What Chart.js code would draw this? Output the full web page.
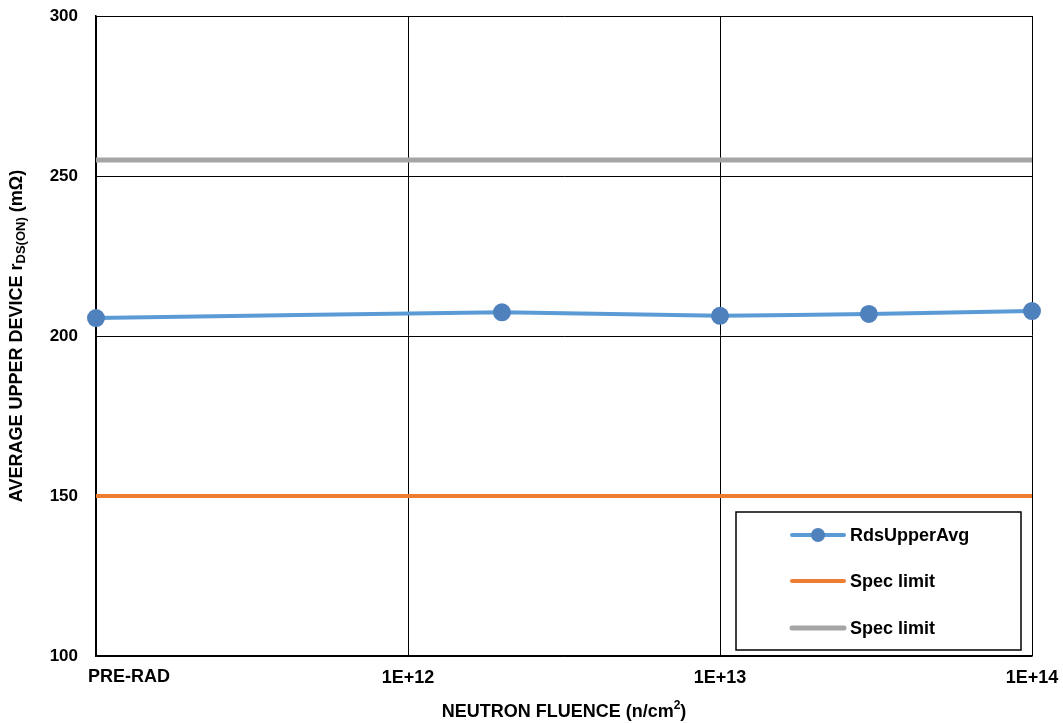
<!DOCTYPE html>
<html>
<head>
<meta charset="utf-8">
<script src="https://cdn.jsdelivr.net/npm/chart.js@4/dist/chart.umd.min.js"></script>
<style>
  html, body { margin: 0; padding: 0; background: #fff; }
  #wrap { width: 1063px; height: 723px; position: relative; }
</style>
</head>
<body>
<div id="wrap"><canvas id="chart"></canvas></div>
<script>
// dados
const fluence = [1e11, 2e12, 1e13, 3e13, 1e14];
const rdsUpperAvg = [205.6, 207.4, 206.3, 206.9, 207.8];
const specX = [1e11, 1e14];
const specLow = [150, 150];
const specHigh = [255, 255];
const xTickValues = [1e11, 1e12, 1e13, 1e14];
const xTickLabels = ['PRE-RAD', '1E+12', '1E+13', '1E+14'];
const yTickValues = [100, 150, 200, 250, 300];

const FONT = 'Liberation Sans, Arial, sans-serif';

function toPoints(xs, ys) {
    return xs.map((x, i) => ({ x: x, y: ys[i] }));
}

// titulos dos eixos e legenda desenhados a mao
const extras = {
    id: 'extras',
    afterDraw(chart) {
        const ctx = chart.ctx;
        const area = chart.chartArea;
        const xs = chart.scales.x;
        ctx.save();
        ctx.fillStyle = '#000';

        // PRE-RAD alinhado a esquerda
        ctx.font = 'bold 18px ' + FONT;
        ctx.textAlign = 'left';
        ctx.textBaseline = 'middle';
        ctx.fillText(xTickLabels[0], xs.getPixelForValue(xTickValues[0]) - 8, area.bottom + 21);

        // titulo eixo x
        ctx.font = 'bold 18px ' + FONT;
        const t1 = 'NEUTRON FLUENCE (n/cm';
        const w1 = ctx.measureText(t1).width;
        ctx.font = 'bold 12px ' + FONT;
        const w2 = ctx.measureText('2').width;
        ctx.font = 'bold 18px ' + FONT;
        const w3 = ctx.measureText(')').width;
        let x0 = (area.left + area.right) / 2 - (w1 + w2 + w3) / 2;
        const ty = 712;
        ctx.fillText(t1, x0, ty);
        ctx.font = 'bold 12px ' + FONT;
        ctx.fillText('2', x0 + w1, ty - 6);
        ctx.font = 'bold 18px ' + FONT;
        ctx.fillText(')', x0 + w1 + w2, ty);

        // titulo eixo y com subscrito
        ctx.translate(17, (area.top + area.bottom) / 2);
        ctx.rotate(-Math.PI / 2);
        const parts = [
            { t: 'AVERAGE UPPER DEVICE r', s: 18, dy: 0 },
            { t: 'DS(ON)', s: 13, dy: 4 },
            { t: ' (m\u03A9)', s: 18, dy: 0 }
        ];
        let total = 0;
        parts.forEach(p => { ctx.font = 'bold ' + p.s + 'px ' + FONT; p.w = ctx.measureText(p.t).width; total += p.w; });
        let px = -total / 2;
        parts.forEach(p => {
            ctx.font = 'bold ' + p.s + 'px ' + FONT;
            ctx.fillText(p.t, px, p.dy);
            px += p.w;
        });
        ctx.restore();

        // legenda
        ctx.save();
        const bx = area.right - 296, by = area.bottom - 144, bw = 285, bh = 138;
        ctx.fillStyle = '#fff';
        ctx.fillRect(bx, by, bw, bh);
        ctx.strokeStyle = '#000';
        ctx.lineWidth = 1.5;
        ctx.strokeRect(bx, by, bw, bh);
        const rows = [23, 69, 116];
        chart.data.datasets.forEach((ds, i) => {
            const ry = by + rows[i];
            ctx.strokeStyle = ds.borderColor;
            ctx.lineWidth = ds.borderWidth;
            ctx.lineCap = 'round';
            ctx.beginPath();
            ctx.moveTo(bx + 56, ry);
            ctx.lineTo(bx + 108, ry);
            ctx.stroke();
            if (ds.pointRadius > 0) {
                ctx.fillStyle = ds.pointBackgroundColor;
                ctx.beginPath();
                ctx.arc(bx + 82, ry, ds.pointRadius, 0, Math.PI * 2);
                ctx.fill();
            }
            ctx.fillStyle = '#000';
            ctx.font = 'bold 18px ' + FONT;
            ctx.textAlign = 'left';
            ctx.textBaseline = 'middle';
            ctx.fillText(ds.label, bx + 114, ry + 1);
        });
        ctx.restore();
    }
};

const ctx = document.getElementById('chart').getContext('2d');
new Chart(ctx, {
    type: 'line',
    data: {
        datasets: [
            {
                label: 'RdsUpperAvg',
                data: toPoints(fluence, rdsUpperAvg),
                borderColor: '#5B9BD5',
                backgroundColor: '#4F81BD',
                pointBackgroundColor: '#4F81BD',
                pointBorderColor: '#4F81BD',
                pointRadius: 7,
                borderWidth: 4,
                tension: 0.15,
                clip: false,
                order: 1
            },
            {
                label: 'Spec limit',
                data: toPoints(specX, specLow),
                borderColor: '#ED7D31',
                borderWidth: 4,
                pointRadius: 0,
                order: 2
            },
            {
                label: 'Spec limit',
                data: toPoints(specX, specHigh),
                borderColor: '#A5A5A5',
                borderWidth: 5,
                pointRadius: 0,
                order: 3
            }
        ]
    },
    options: {
        responsive: true,
        maintainAspectRatio: false,
        animation: false,
        layout: { padding: { top: 16, right: 31, left: 0, bottom: 0 } },
        plugins: {
            legend: { display: false },
            tooltip: { enabled: false }
        },
        scales: {
            x: {
                type: 'logarithmic',
                min: 1e11,
                max: 1e14,
                afterBuildTicks: function(scale) {
                    scale.ticks = xTickValues.map(v => ({ value: v, major: true }));
                },
                afterFit: function(scale) {
                    scale.height = 67;
                    scale.paddingLeft = 0;
                    scale.paddingRight = 0;
                },
                ticks: {
                    autoSkip: false,
                    maxRotation: 0,
                    padding: 11,
                    color: '#000',
                    font: { family: FONT, size: 18, weight: 'bold' },
                    callback: function(value) {
                        const i = xTickValues.indexOf(value);
                        return i > 0 ? xTickLabels[i] : '';
                    }
                },
                grid: { color: '#000', lineWidth: 1, drawTicks: false },
                border: { color: '#000', width: 1.5 }
            },
            y: {
                min: 100,
                max: 300,
                afterBuildTicks: function(scale) {
                    scale.ticks = yTickValues.map(v => ({ value: v }));
                },
                afterFit: function(scale) {
                    scale.width = 96;
                    scale.paddingTop = 0;
                    scale.paddingBottom = 0;
                },
                ticks: {
                    padding: 18,
                    color: '#000',
                    font: { family: FONT, size: 17, weight: 'bold' }
                },
                grid: { color: '#000', lineWidth: 1, drawTicks: false },
                border: { color: '#000', width: 1.5 }
            }
        }
    },
    plugins: [extras]
});
</script>
</body>
</html>
